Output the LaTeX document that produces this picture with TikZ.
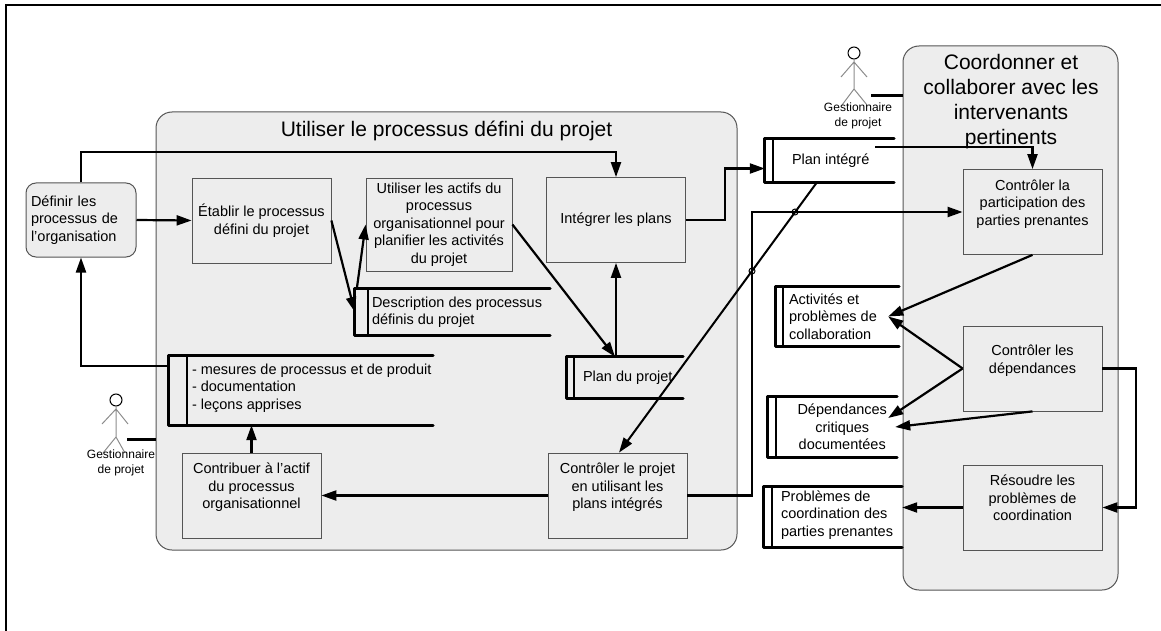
\documentclass[tikz,border=0pt]{standalone}
\usepackage{fontspec}
\setmainfont{Liberation Sans}
\usetikzlibrary{arrows.meta}
\definecolor{boxgray}{RGB}{237,237,237}
\definecolor{linegray}{RGB}{85,85,85}
\definecolor{actorgray}{RGB}{140,140,140}

\begin{document}
\begin{tikzpicture}[x=1pt,y=-1pt,
    flow/.style={line width=2.2pt,-{Triangle[length=15pt,width=10pt]}},
    storeline/.style={line width=3pt,line cap=round,line join=round},
    storetext/.style={anchor=west,align=left,inner sep=0pt,font=\fontsize{14.5}{17.5}\selectfont},
    textup/.style={text depth=19pt},
    actorline/.style={actorgray,line width=1pt},
    jump/.style={line width=1pt}]

  \useasboundingbox (0,0) rectangle (1161,631);
  \draw[line width=2pt] (1161,5) -- (6,5) -- (6,631);

  \begin{scope}[every node/.style={draw=linegray,fill=boxgray,rounded corners=16pt,line width=1pt}]
    \node[minimum width=581pt,minimum height=438pt] (usage) at (446.5,331) {};
    \node[minimum width=215pt,minimum height=544pt] (coord) at (1010.5,318) {};
  \end{scope}

  \node[font=\fontsize{21}{25}\selectfont] (usage-title) at (446.5,131) {Utiliser le processus défini du projet};
  \node[font=\fontsize{21}{25}\selectfont,align=center] (coord-title) at (1011,102)
    {Coordonner et\\collaborer avec les\\intervenants\\pertinents};

  \node[draw=linegray,fill=boxgray,rounded corners=10pt,line width=1pt,
        minimum height=74pt,text width=100pt,inner xsep=5pt,align=left,
        font=\fontsize{14.5}{17.5}\selectfont] (defin) at (81,220)
    {Définir les\\processus de\\l’organisation};

  \begin{scope}[every node/.style={draw=linegray,fill=boxgray,line width=0.8pt,align=center,
      minimum width=139pt,minimum height=85pt,font=\fontsize{14.5}{17.5}\selectfont}]
    \node (etab)     at (261.5,220.5) {Établir le processus\\défini du projet};
    \node[minimum width=146pt,minimum height=93pt]
          (util)     at (439,224.5)   {Utiliser les actifs du\\processus\\organisationnel pour\\planifier les activités\\du projet};
    \node (integ)    at (616,220)     {Intégrer les plans};
    \node[textup] (ctrlproj) at (617.5,495.5) {Contrôler le projet\\en utilisant les\\plans intégrés};
    \node[textup] (contrib)  at (251.5,495.5) {Contribuer à l’actif\\du processus\\organisationnel};
    \node[textup] (ctrlpart) at (1032.5,212)  {Contrôler la\\participation des\\parties prenantes};
    \node[textup] (ctrldep)  at (1032.5,368.5) {Contrôler les\\dépendances};
    \node[textup] (resoud)   at (1032.5,507.5) {Résoudre les\\problèmes de\\coordination};
  \end{scope}

  \begin{scope}[every node/.style={inner sep=0pt}]
    \node[minimum width=195pt,minimum height=46pt] (desc)       at (452.5,312) {};
    \node[minimum width=264pt,minimum height=69pt] (mesures)    at (301,390.5) {};
    \node[minimum width=116pt,minimum height=41pt] (planprojet) at (625,377.5) {};
    \node[minimum width=129pt,minimum height=43pt] (planint)    at (829.5,160.5) {};
    \node[minimum width=123pt,minimum height=59pt] (activ)      at (837.5,316.5) {};
    \node[minimum width=129pt,minimum height=60pt] (depend)     at (832.5,427) {};
    \node[minimum width=138pt,minimum height=60pt] (probl)      at (833,517) {};
  \end{scope}

  \foreach \s/\d in {desc/13,mesures/18,planprojet/7,planint/8,activ/7,depend/8,probl/8}{
    \draw[storeline] (\s.north east) -- (\s.north west) -- (\s.south west) -- (\s.south east);
    \draw[line width=2pt] ([xshift=\d pt]\s.north west) -- ([xshift=\d pt]\s.south west);
  }

  \node[storetext] (desc-text)       at ([xshift=17pt]desc.west) {Description des processus\\définis du projet};
  \node[storetext] (mesures-text)    at ([xshift=23pt,yshift=2.5pt]mesures.west)
    {- mesures de processus et de produit\\- documentation\\- leçons apprises};
  \node[storetext] (planprojet-text) at ([xshift=16pt]planprojet.west) {Plan du projet};
  \node[storetext] (planint-text)    at ([xshift=27pt]planint.west) {Plan intégré};
  \node[storetext] (activ-text)      at ([xshift=13pt]activ.west) {Activités et\\problèmes de\\collaboration};
  \node[storetext,align=center] (depend-text) at ([xshift=29.5pt]depend.west) {Dépendances\\critiques\\documentées};
  \node[storetext] (probl-text)      at ([xshift=17pt,yshift=2pt]probl.west) {Problèmes de\\coordination des\\parties prenantes};

  \coordinate (planint-out) at (875,147);

  \draw[flow] (defin.east) -- (etab.west);
  \draw[flow] (defin.north) |- (616,152) -- (integ.north);
  \draw[flow] (etab.east) -- (desc.west);
  \draw[flow] ([xshift=2pt]desc.north west) -- (util.west);
  \draw[flow] (util.east) -- ([xshift=-10pt]planprojet.north);
  \draw[flow] (integ.south |- planprojet.north) -- (integ.south);
  \draw[flow] (integ.east) -- (725,220) |- ([yshift=-8pt]planint.west);
  \draw[flow] (planint-out) -| (ctrlpart.north);
  \draw[line width=2pt,-{Triangle[length=15pt,width=10pt]}] ([xshift=-12.5pt]planint.south) -- ([xshift=1.5pt]ctrlproj.north);
  \draw[flow] (ctrlproj.east) -- (752,495.5) |- (ctrlpart.west);
  \draw[flow] (ctrlproj.west) -- (contrib.east);
  \draw[flow] (contrib.north) -- (contrib.north |- mesures.south);
  \draw[flow] ([yshift=24.5pt]mesures.west) -| (defin.south);
  \draw[flow] (ctrlpart.south) -- ([xshift=-11pt]activ.east);
  \draw[flow] (ctrldep.west) -- ([xshift=-11pt]activ.east);
  \draw[flow] (ctrldep.west) -- ([xshift=-9pt,yshift=9pt]depend.east);
  \draw[flow] (ctrldep.south) -- ([xshift=-2pt]depend.east);
  \draw[flow] (ctrldep.east) -- (1136,368.5) |- (resoud.east);
  \draw[flow] (resoud.west) -- (resoud.west -| probl.east);

  \draw[jump] (795,212) circle[radius=3pt];
  \draw[jump] (752,271) circle[radius=3pt];

  \draw[black,line width=1pt,fill=white] (854,53) circle[radius=6pt];
  \draw[actorline] (854,59) -- (854,89) (841,77) -- (854,62) -- (867,77) (842,105) -- (854,89) -- (867,105);
  \node[align=center,inner sep=0pt,font=\fontsize{12}{15}\selectfont] (mgr1-label) at (858,115.5) {Gestionnaire\\de projet};
  \coordinate (mgr1) at (871,96);
  \draw[line width=3pt] (mgr1) -- (coord.west |- mgr1);

  \draw[black,line width=1pt,fill=white] (116,400) circle[radius=6pt];
  \draw[actorline] (116,406) -- (116,437) (102,424) -- (116,409) -- (128,424) (103,453) -- (116,437) -- (125,453);
  \node[align=center,inner sep=0pt,font=\fontsize{12}{15}\selectfont] (mgr2-label) at (121,463) {Gestionnaire\\de projet};
  \coordinate (mgr2) at (127,439);
  \draw[line width=3pt] (mgr2) -- (usage.west |- mgr2);

\end{tikzpicture}
\end{document}
